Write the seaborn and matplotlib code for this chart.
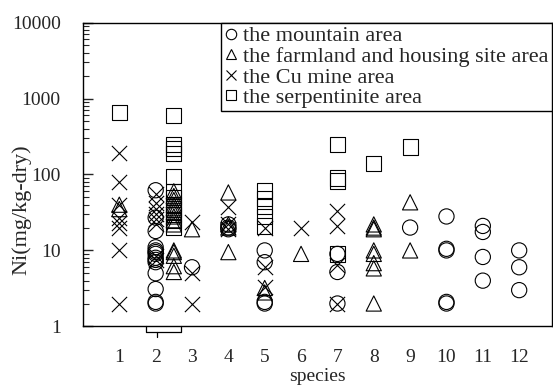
import numpy as np
import pandas as pd
import matplotlib
matplotlib.use("Agg")
import matplotlib.pyplot as plt
import matplotlib.transforms as mtransforms
import seaborn as sns

# species position (2.5 = second column of species 2) and Ni values
mountain_x = [2, 2, 2, 2, 2, 2, 2, 2, 2, 2, 2, 2, 2, 2, 3, 4, 4, 4, 5, 5, 5, 5,
              7, 7, 7, 9, 10, 10, 10, 10, 10, 11, 11, 11, 11, 12, 12, 12]
mountain_y = [62, 27, 18, 11, 10, 9.5, 9, 8, 7.5, 7, 5, 3.1, 2.1, 2, 6, 22, 20, 19, 10, 7, 2.1, 2,
              9, 5.2, 2, 20, 28, 10.5, 10, 2.1, 2, 21, 17.5, 8.2, 4, 10, 6, 3]

farm_x = [1, 1, 2.5, 2.5, 2.5, 2.5, 2.5, 2.5, 2.5, 2.5, 2.5, 2.5, 2.5, 2.5, 2.5, 2.5,
          3, 4, 4, 4, 4, 5, 5, 6, 8, 8, 8, 8, 8, 8, 8, 8, 9, 9]
farm_y = [40, 35, 60, 52, 46, 40, 36, 32, 28, 25, 22, 10, 9.5, 8.5, 6.2, 5.2,
          19, 58, 22, 20, 9.5, 3.2, 2.8, 9, 22, 20, 19, 10, 9, 6.8, 5.8, 2, 43, 10]

cu_x = [1, 1, 1, 1, 1, 1, 1, 1, 2, 2, 2, 2, 2, 2, 2, 2, 3, 3, 3, 4, 4, 4,
        5, 5, 5, 6, 7, 7, 7, 7]
cu_y = [190, 80, 40, 27, 23, 20, 10, 2, 55, 42, 35, 30, 26, 22, 8.5, 7.5, 24, 5, 2, 37, 22, 19,
        20, 6, 3.3, 20, 33, 21, 6.5, 2]

serp_x = [1, 2.5, 2.5, 2.5, 2.5, 2.5, 2.5, 2.5, 2.5, 2.5, 2.5, 2.5, 2.5,
          5, 5, 5, 5, 5, 7, 7, 7, 7, 8, 9]
serp_y = [650, 600, 250, 220, 190, 95, 60, 50, 40, 35, 30, 25, 20,
          62, 48, 38, 28, 21, 250, 90, 82, 9, 140, 230]

species_ticks = list(range(1, 13))
y_ticks = [1, 10, 100, 1000, 10000]

groups = [
    ("the mountain area", mountain_x, mountain_y, "o"),
    ("the farmland and housing site area", farm_x, farm_y, "^"),
    ("the Cu mine area", cu_x, cu_y, "x"),
    ("the serpentinite area", serp_x, serp_y, "s"),
]

sns.set_style("ticks")
plt.rcParams["font.family"] = ["Liberation Serif", "DejaVu Serif"]
plt.rcParams["font.size"] = 14

fig = plt.figure(figsize=(5.53, 3.89), dpi=100)
ax = fig.add_axes([0.150, 0.161, 0.848, 0.781])

handles = []
for name, xs, ys, mk in groups:
    df = pd.DataFrame({"species": xs, "Ni": ys})
    if mk == "x":
        sns.scatterplot(data=df, x="species", y="Ni", marker=mk, s=120, color="k",
                        linewidth=0.8, ax=ax)
    else:
        sns.scatterplot(data=df, x="species", y="Ni", marker=mk, s=120, facecolor="none",
                        edgecolor="k", linewidth=0.8, ax=ax)
    h = plt.Line2D([], [], linestyle="none", marker=mk, markersize=7.5, color="k",
                   markerfacecolor="none", markeredgewidth=0.8, label=name)
    handles.append(h)

ax.set_yscale("log")
ax.set_ylim(1, 10000)
ax.set_xlim(0, 12.9)
ax.set_yticks(y_ticks)
ax.set_yticklabels([str(v) for v in y_ticks])
ax.set_xticks(species_ticks)
ax.set_xticklabels([str(v) for v in species_ticks])
ax.tick_params(axis="x", length=0, pad=16)
ax.tick_params(axis="y", which="major", direction="in", length=7, width=1, pad=16)
ax.tick_params(axis="y", which="minor", direction="in", length=4, width=0.8)
for sp in ax.spines.values():
    sp.set_visible(True)
    sp.set_linewidth(1.0)
    sp.set_color("k")

ax.set_xlabel("species", labelpad=2)
ax.set_ylabel("Ni(mg/kg-dry)", fontsize=16)
ax.yaxis.label.set_va("center")
ax.yaxis.set_label_coords(-0.13, 0.383)

# bracket under species 2
tr = mtransforms.blended_transform_factory(ax.transData, ax.transAxes)
ax.plot([1.73, 1.73, 2.69, 2.69], [0, -0.02, -0.02, 0], color="k", lw=0.9,
        transform=tr, clip_on=False)
ax.plot([2.03, 2.03], [-0.02, -0.035], color="k", lw=0.9, transform=tr, clip_on=False)

leg = ax.legend(handles=handles, loc="upper right", borderaxespad=0, frameon=True,
                fancybox=False, edgecolor="k", framealpha=1, handlelength=0.6,
                handletextpad=0.25, labelspacing=0.0, borderpad=0.15, fontsize=16)
leg.get_frame().set_linewidth(1.0)

fig.savefig("out.png", dpi=100)
